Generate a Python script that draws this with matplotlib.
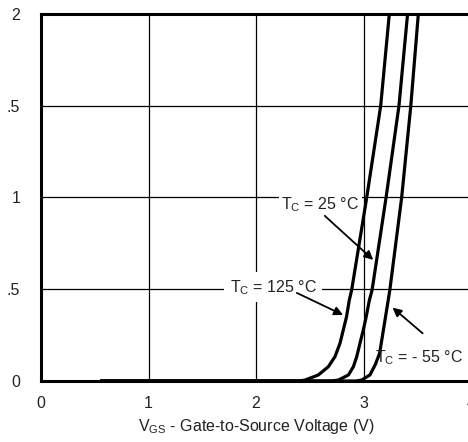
import matplotlib
matplotlib.use("Agg")
import matplotlib.pyplot as plt

plt.rcParams['font.family'] = ['Liberation Sans', 'DejaVu Sans']
plt.rcParams['mathtext.fontset'] = 'custom'
plt.rcParams['mathtext.rm'] = 'Liberation Sans'
plt.rcParams['mathtext.it'] = 'Liberation Sans'

# Transfer characteristics: drain current vs gate-source voltage
vgs_125 = [0.55, 2.40, 2.456, 2.58, 2.673, 2.735, 2.781, 2.812, 2.842, 2.868, 2.89, 3.03, 3.16, 3.24]
id_125 = [0.0, 0.0, 0.005, 0.033, 0.078, 0.133, 0.205, 0.278, 0.35, 0.441, 0.496, 1.0, 1.5, 2.0]

vgs_25 = [0.55, 2.70, 2.766, 2.86, 2.906, 2.937, 2.967, 2.998, 3.025, 3.055, 3.08, 3.21, 3.33, 3.41]
id_25 = [0.0, 0.0, 0.005, 0.033, 0.078, 0.133, 0.205, 0.278, 0.35, 0.441, 0.496, 1.0, 1.5, 2.0]

vgs_m55 = [0.55, 2.93, 2.983, 3.06, 3.11, 3.15, 3.20, 3.245, 3.355, 3.44, 3.51]
id_m55 = [0.0, 0.0, 0.005, 0.033, 0.09, 0.151, 0.332, 0.496, 1.0, 1.5, 2.0]

x_ticks = [0, 1, 2, 3, 4]
y_ticks = [0, 0.5, 1, 1.5, 2]
y_tick_labels = ["0", ".5", "1", ".5", "2"]

fig = plt.figure(figsize=(4.68, 4.42), dpi=100)
ax = fig.add_axes([41 / 468, 61 / 442, 430 / 468, 367 / 442])

txt_color = '#222222'
fs = 11.5

for v, i in [(vgs_125, id_125), (vgs_25, id_25), (vgs_m55, id_m55)]:
    ax.plot(v, i, color='black', lw=2.3, clip_on=False, solid_capstyle='butt',
            solid_joinstyle='round', zorder=3)

ax.set_xlim(0, 4)
ax.set_ylim(0, 2)
ax.set_xticks(x_ticks)
ax.set_yticks(y_ticks)
ax.set_yticklabels(y_tick_labels)
ax.tick_params(length=0, labelsize=fs, colors=txt_color)
ax.tick_params(axis='x', pad=11)
ax.tick_params(axis='y', pad=15)
ax.grid(True, color='black', lw=0.9)
ax.set_axisbelow(True)

for side in ['left', 'top', 'bottom']:
    ax.spines[side].set_linewidth(2.2)
ax.spines['right'].set_visible(False)

ax.set_xlabel(r"V$_{\mathrm{GS}}$ - Gate-to-Source Voltage (V)", fontsize=fs,
              color=txt_color, labelpad=4)

arrow = dict(arrowstyle='-|>', color='black', lw=1.3, mutation_scale=13,
             shrinkA=0, shrinkB=0)

ax.text(2.6, 0.96, r"T$_{\mathrm{C}}$ = 25 °C", ha='center', va='center',
        fontsize=fs, color=txt_color, zorder=4,
        bbox=dict(facecolor='white', edgecolor='none', pad=1.5))
ax.annotate("", xy=(3.09, 0.66), xytext=(2.64, 0.90), arrowprops=arrow, zorder=5)

ax.text(2.16, 0.51, r"T$_{\mathrm{C}}$ = 125 °C", ha='center', va='center',
        fontsize=fs, color=txt_color, zorder=4,
        bbox=dict(facecolor='white', edgecolor='none', pad=4))
ax.annotate("", xy=(2.81, 0.36), xytext=(2.38, 0.48), arrowprops=arrow, zorder=5)

ax.text(3.52, 0.125, r"T$_{\mathrm{C}}$ = - 55 °C", ha='center', va='center',
        fontsize=fs, color=txt_color, zorder=4)
ax.annotate("", xy=(3.27, 0.40), xytext=(3.55, 0.26), arrowprops=arrow, zorder=5)

fig.savefig("out.png", dpi=100)
